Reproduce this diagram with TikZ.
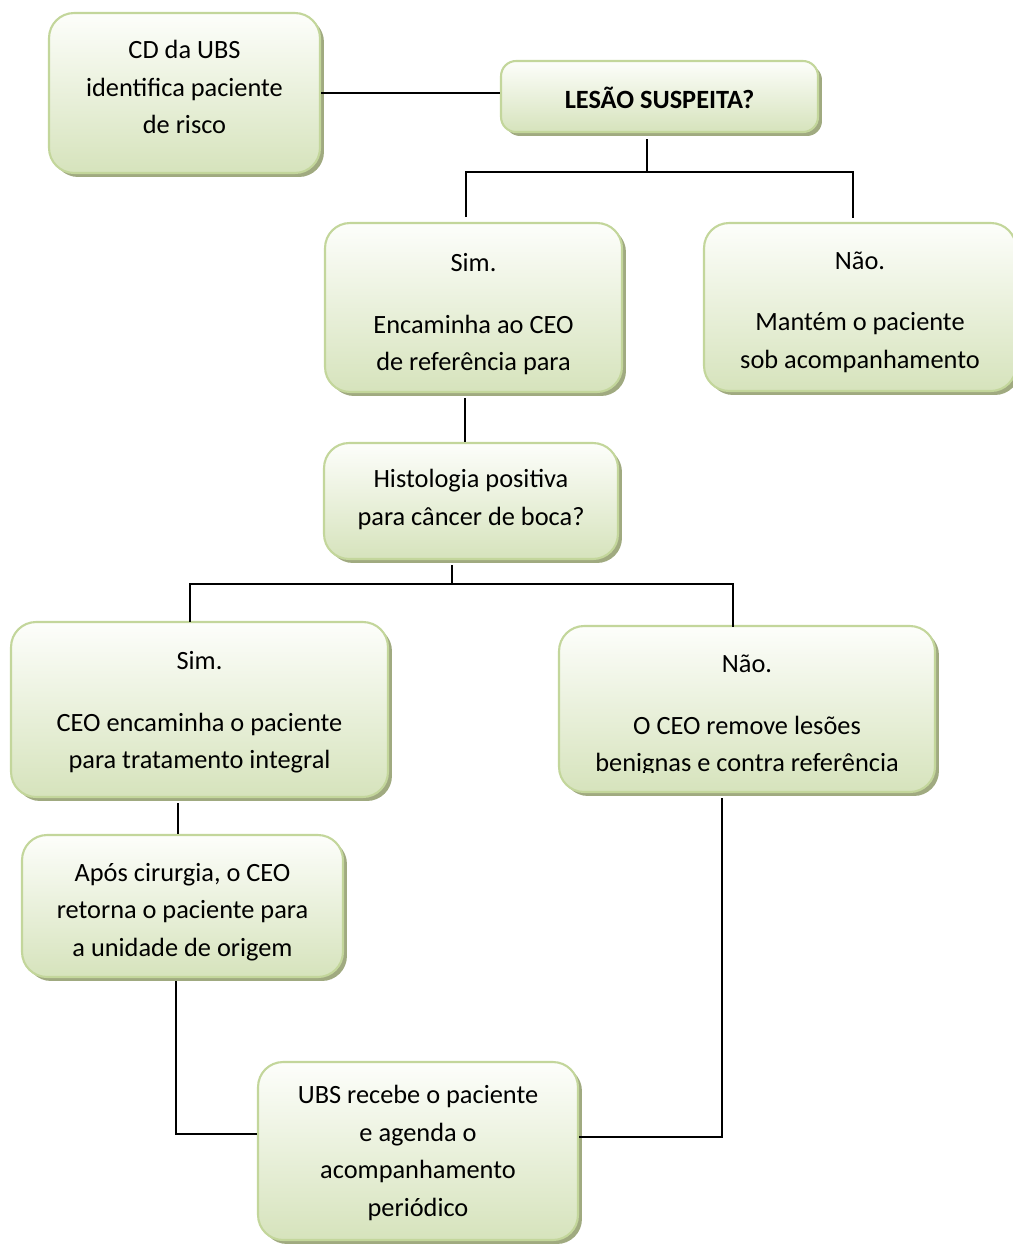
\documentclass[tikz,border=0pt]{standalone}
\usepackage{fontspec}
\setmainfont{Carlito}
\usetikzlibrary{shadows}
\definecolor{boxline}{RGB}{195,214,155}
\definecolor{boxtop}{RGB}{253,254,251}
\definecolor{boxbot}{RGB}{214,227,188}
\definecolor{boxshadow}{RGB}{160,170,128}
\tikzset{
    flowbox/.style={draw=boxline, line width=1.2pt, rounded corners=0.5cm,
        top color=boxtop, bottom color=boxbot,
        general shadow={fill=boxshadow, shadow xshift=0.08cm, shadow yshift=-0.08cm},
        inner sep=0pt},
    boxtext/.style={align=center, inner sep=0pt, font=\fontsize{15}{21.3}\selectfont},
    link/.style={line width=1.1pt}
}

\begin{document}
\begin{tikzpicture}[x=0.02cm, y=-0.02cm]
    \useasboundingbox (0,0) rectangle (1012,1244);

    \node[flowbox, minimum width=5.42cm, minimum height=3.2cm] (cd) at (184.5,93) {};
    \node[boxtext] (cdtxt) at (184.5,87) {CD da UBS\\identifica paciente\\de risco};
    \node[flowbox, rounded corners=0.3cm, minimum width=6.34cm, minimum height=1.42cm] (lesao) at (659.5,96.5) {};
    \node[boxtext, font=\fontsize{15}{21.3}\selectfont\bfseries] (lesaotxt) at (659.5,97.5) {LESÃO SUSPEITA?};
    \node[flowbox, minimum width=5.94cm, minimum height=3.38cm] (sim1) at (473.5,307.5) {};
    \node[boxtext] (sim1txt) at (473.5,314) {Sim.\\[0.49cm]Encaminha ao CEO\\de referência para};
    \node[flowbox, minimum width=6.24cm, minimum height=3.36cm] (nao1) at (860,307) {};
    \node[boxtext] (nao1txt) at (860,312) {Não.\\[0.49cm]Mantém o paciente\\sob acompanhamento};
    \node[flowbox, minimum width=5.88cm, minimum height=2.32cm] (histo) at (471,501) {};
    \node[boxtext] (histotxt) at (471,499.5) {Histologia positiva\\para câncer de boca?};
    \node[flowbox, minimum width=7.54cm, minimum height=3.5cm] (sim2) at (199.5,709.5) {};
    \node[boxtext] (sim2txt) at (199.5,712.5) {Sim.\\[0.49cm]CEO encaminha o paciente\\para tratamento integral};
    \node[flowbox, minimum width=7.52cm, minimum height=3.32cm] (nao2) at (747,709) {};
    \begin{scope}
        \clip (559,600) rectangle (935,772);
        \node[boxtext] (nao2txt) at (747,715.5) {Não.\\[0.49cm]O CEO remove lesões\\benignas e contra referência};
    \end{scope}
    \node[flowbox, minimum width=6.42cm, minimum height=2.84cm] (apos) at (182.5,906) {};
    \node[boxtext] (apostxt) at (182.5,912) {Após cirurgia, o CEO\\retorna o paciente para\\a unidade de origem};
    \node[flowbox, minimum width=6.4cm, minimum height=3.56cm] (ubs) at (418,1151) {};
    \node[boxtext] (ubstxt) at (418,1153) {UBS recebe o paciente\\e agenda o\\acompanhamento\\periódico};

    % connectors
    \coordinate (j_1) at (647,172);
    \coordinate (a_1) at (466,217);
    \coordinate (a_2) at (853,218);
    \coordinate (b_1) at (465,0);
    \coordinate (j_2) at (452,584);
    \coordinate (c_1) at (190,622);
    \coordinate (c_2) at (733,627);
    \coordinate (d_1) at (178,0);
    \coordinate (e_1) at (176,1134);
    \coordinate (e_2) at (722,1137);

    \draw[link] (cd.east) -- (cd.east -| lesao.west);
    \draw[link, shorten <=0.12cm] (lesao.south -| j_1) -- (j_1);
    \draw[link] (a_1) |- (j_1) -| (a_2);
    \draw[link, shorten <=0.1cm] (sim1.south -| b_1) -- (histo.north -| b_1);
    \draw[link, shorten <=0.1cm] (histo.south -| j_2) -- (j_2);
    \draw[link] (c_1) |- (j_2) -| (c_2);
    \draw[link, shorten <=0.1cm] (sim2.south -| d_1) -- (apos.north -| d_1);
    \draw[link, shorten <=0.06cm] (apos.south -| e_1) |- (ubs.west |- e_1);
    \draw[link, shorten <=0.1cm] (nao2.south -| e_2) |- (ubs.east |- e_2);
\end{tikzpicture}
\end{document}
